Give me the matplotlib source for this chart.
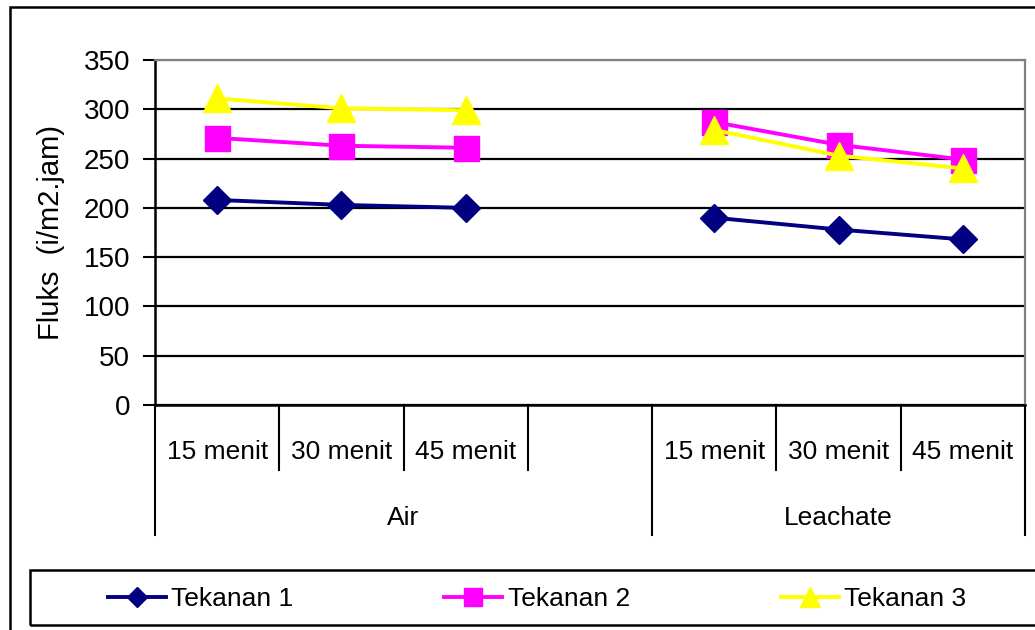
import numpy as np
import matplotlib
matplotlib.use('Agg')
import matplotlib.pyplot as plt
from matplotlib.patches import Rectangle

plt.rcParams['font.family'] = ['Liberation Sans', 'DejaVu Sans']

# data
categories = ["15 menit", "30 menit", "45 menit", "", "15 menit", "30 menit", "45 menit"]
groups = ["Air", "Leachate"]
group_sizes = [4, 3]
tekanan1 = [208, 203, 200, np.nan, 190, 178, 168]
tekanan2 = [271, 263, 261, np.nan, 287, 264, 249]
tekanan3 = [311, 301, 299, np.nan, 279, 253, 240]
yticks = [0, 50, 100, 150, 200, 250, 300, 350]

W, H = 1035, 630
fig = plt.figure(figsize=(W / 100, H / 100), dpi=100)
ax = fig.add_axes([155 / W, 1 - 405 / H, 870 / W, 345 / H])

x = np.arange(len(categories)) + 0.5
ax.plot(x, tekanan1, color='#000080', lw=2.8, marker='D', ms=14, label='Tekanan 1', zorder=3)
ax.plot(x, tekanan2, color='#FF00FF', lw=2.8, marker='s', ms=18, label='Tekanan 2', zorder=4)
ax.plot(x, tekanan3, color='#FFFF00', lw=2.8, marker='^', ms=20, label='Tekanan 3', zorder=5)

ax.set_xlim(0, len(categories))
ax.set_ylim(yticks[0], yticks[-1])
ax.set_yticks(yticks)
ax.tick_params(axis='y', labelsize=20, length=9, width=1.5, pad=9, direction='out')
ax.set_xticks([])
ax.yaxis.grid(True, color='black', lw=1.6)
ax.get_ygridlines()[-1].set_color('#808080')
ax.set_axisbelow(True)
for s in ['top', 'right']:
    ax.spines[s].set_color('#808080')
    ax.spines[s].set_linewidth(1.6)
for s in ['left', 'bottom']:
    ax.spines[s].set_linewidth(1.8)
ax.set_ylabel('Fluks  (i/m2.jam)', fontsize=21, labelpad=13)

# category axis: labels and separators drawn below the plot
tr = ax.get_xaxis_transform()
short = 65 / 345
long_ = 130 / 345
bounds = np.cumsum([0] + group_sizes)
for i in range(len(categories) + 1):
    depth = long_ if i in bounds else short
    ax.plot([i, i], [0, -depth], transform=tr, color='black', lw=1.5, clip_on=False)
for xi, c in zip(x, categories):
    ax.text(xi, -47 / 345, c, transform=tr, ha='center', va='center', fontsize=19)
for g, a, b in zip(groups, bounds[:-1], bounds[1:]):
    ax.text((a + b) / 2, -113 / 345, g, transform=tr, ha='center', va='center', fontsize=19)

# outer chart frame
fig.patches.append(Rectangle((10 / W, -0.1), 1.2, 1 - 7 / H + 0.1, transform=fig.transFigure,
                             fill=False, ec='black', lw=1.8))
# legend frame
fig.patches.append(Rectangle((30 / W, 5 / H), 1.2, 55 / H, transform=fig.transFigure,
                             fill=False, ec='black', lw=1.8))
fig.legend(loc='lower left', bbox_to_anchor=(97 / W, 8 / H, 880 / W, 50 / H), mode='expand',
           ncol=3, frameon=False, fontsize=19, handlelength=2.2, handletextpad=0.2,
           borderaxespad=0, markerscale=0.7)

fig.savefig('out.png', dpi=100)
